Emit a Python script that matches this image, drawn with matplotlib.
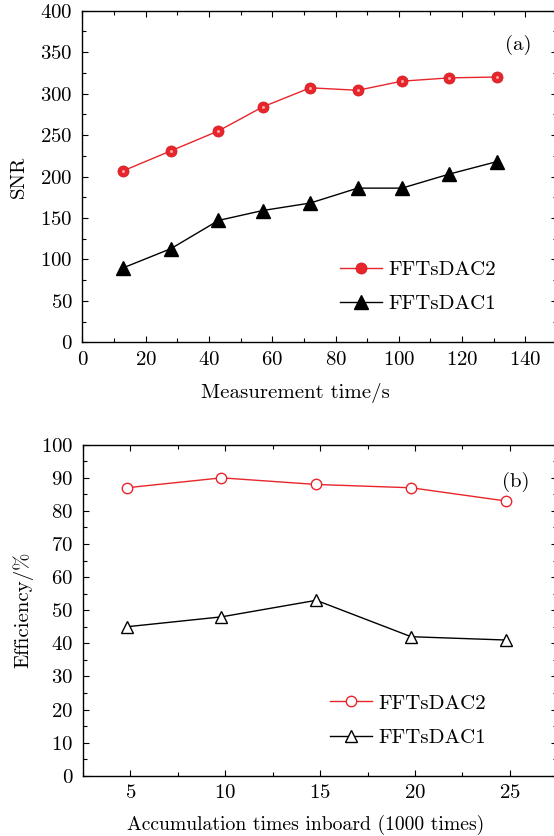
import matplotlib
matplotlib.use("Agg")
import matplotlib.pyplot as plt
from matplotlib.ticker import MultipleLocator

plt.rcParams['font.family'] = ['cmr10', 'DejaVu Serif']
plt.rcParams['axes.formatter.use_mathtext'] = True
plt.rcParams['font.size'] = 15

# panel (a): SNR vs measurement time
time_s = [13, 28, 43, 57, 72, 87, 101, 116, 131]
snr_dac2 = [207, 231, 255, 284, 307, 304, 315, 319, 320]
snr_dac1 = [90, 113, 147, 159, 168, 186, 186, 203, 218]

# panel (b): efficiency vs accumulation times
accum = [4.8, 9.8, 14.8, 19.8, 24.8]
eff_dac2 = [87, 90, 88, 87, 83]
eff_dac1 = [45, 48, 53, 42, 41]

RED = '#e8252b'


def style_axes(ax):
    for s in ax.spines.values():
        s.set_linewidth(1.0)
    ax.tick_params(which='both', direction='in', top=True, right=True, width=0.8)
    ax.tick_params(which='major', length=4.5, labelsize=15)
    ax.tick_params(which='minor', length=2.8)
    ax.tick_params(axis='x', pad=6)
    ax.tick_params(axis='y', pad=7)


fig = plt.figure(figsize=(5.54, 8.36), dpi=100)

ax1 = fig.add_axes([0.1486, 0.5905, 0.857, 0.3967])
ax1.plot(time_s, snr_dac2, color=RED, lw=1.0, marker='o', ms=8,
         mfc=RED, mec='#cc1c22', mew=0.5, label='FFTsDAC2')
ax1.plot(time_s, snr_dac2, ls='none', marker='o', ms=2.2,
         mfc='#f7a5a5', mec='none')
ax1.plot(time_s, snr_dac1, color='black', lw=1.0, marker='^', ms=10,
         mfc='black', mec='black', label='FFTsDAC1')
ax1.set_xlim(0, 150)
ax1.set_ylim(0, 400)
ax1.xaxis.set_major_locator(MultipleLocator(20))
ax1.xaxis.set_minor_locator(MultipleLocator(10))
ax1.yaxis.set_major_locator(MultipleLocator(50))
ax1.yaxis.set_minor_locator(MultipleLocator(25))
style_axes(ax1)
ax1.set_xlabel('Measurement time/s')
ax1.xaxis.set_label_coords(0.448, -0.122)
ax1.set_ylabel('SNR')
ax1.yaxis.set_label_coords(-0.114, 0.5)
ax1.text(0.918, 0.897, '(a)', transform=ax1.transAxes, ha='center', va='center')
ax1.legend(loc='center left', bbox_to_anchor=(0.543, 0.168), frameon=False,
           borderpad=0, borderaxespad=0, handlelength=2.0,
           labelspacing=0.75, handletextpad=0.3)

ax2 = fig.add_axes([0.1498, 0.0721, 0.856, 0.3959])
ax2.plot(accum, eff_dac2, color=RED, lw=1.0, marker='o', ms=7.5,
         mfc='white', mec=RED, mew=1.0, label='FFTsDAC2')
ax2.plot(accum, eff_dac1, color='black', lw=1.0, marker='^', ms=8.5,
         mfc='white', mec='black', mew=1.0, label='FFTsDAC1')
ax2.set_xlim(2.5, 27.5)
ax2.set_ylim(0, 100)
ax2.xaxis.set_major_locator(MultipleLocator(5))
ax2.xaxis.set_minor_locator(MultipleLocator(2.5))
ax2.yaxis.set_major_locator(MultipleLocator(10))
ax2.yaxis.set_minor_locator(MultipleLocator(5))
style_axes(ax2)
ax2.set_xlabel('Accumulation times inboard (1000 times)', fontsize=14.2)
ax2.xaxis.set_label_coords(0.470, -0.119)
ax2.set_ylabel('Efficiency/%')
ax2.yaxis.set_label_coords(-0.104, 0.5)
ax2.text(0.912, 0.887, '(b)', transform=ax2.transAxes, ha='center', va='center')
ax2.legend(loc='center left', bbox_to_anchor=(0.521, 0.167), frameon=False,
           borderpad=0, borderaxespad=0, handlelength=2.0,
           labelspacing=0.75, handletextpad=0.3)

fig.savefig('out.png', dpi=100)
